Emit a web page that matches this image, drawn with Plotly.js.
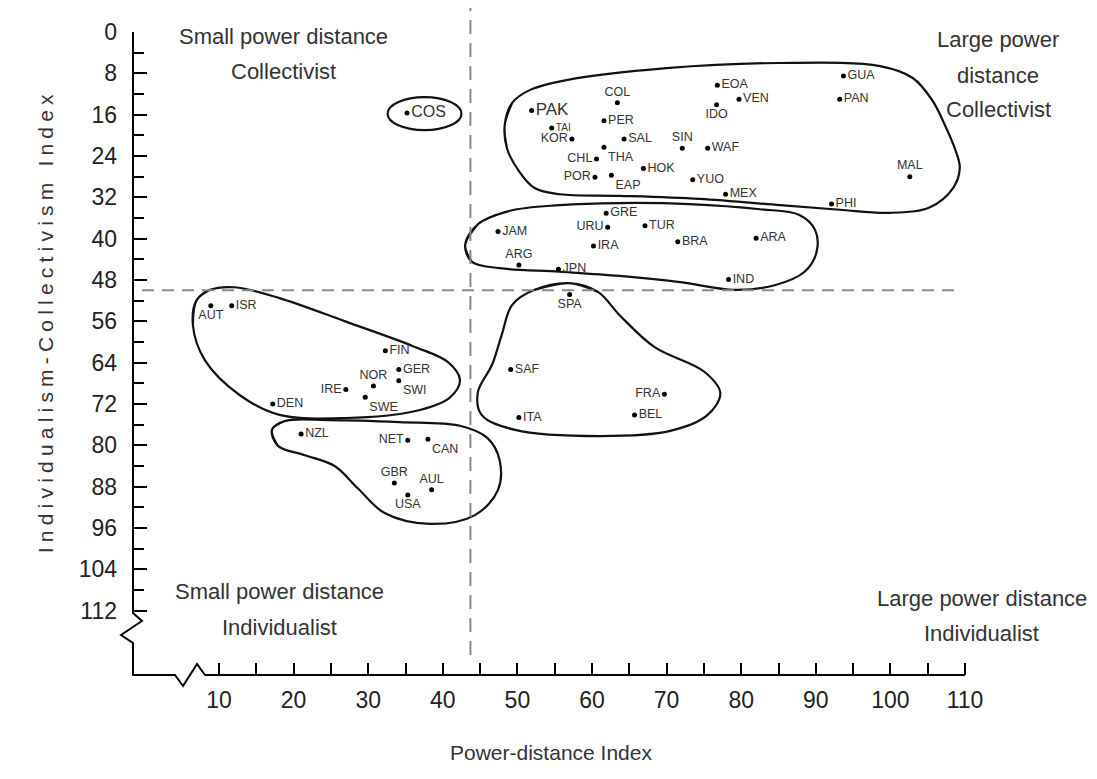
<!DOCTYPE html>
<html>
<head>
<meta charset="utf-8">
<script src="https://cdn.plot.ly/plotly-3.0.1.min.js"></script>
<style>
html,body{margin:0;padding:0;background:#fff;}
#chart{width:1097px;height:779px;}
.annotation[data-index="0"] text{letter-spacing:5.2px;}
</style>
</head>
<body>
<div id="chart"></div>
<script>
// ---------------- data ----------------
const countries = ["PAK","TAI","KOR","COL","PER","SAL","THA","CHL","POR","EAP","HOK","SIN","WAF","YUO","MEX","EOA","VEN","IDO","GUA","PAN","MAL","PHI","COS","JAM","ARG","URU","GRE","TUR","IRA","BRA","ARA","JPN","IND","SPA","AUT","ISR","FIN","GER","SWI","NOR","IRE","SWE","DEN","NZL","NET","CAN","GBR","AUL","USA","SAF","FRA","ITA","BEL"];
const powerDistance = [51.9,54.6,57.3,63.4,61.6,64.3,61.6,60.6,60.4,62.6,66.9,72.1,75.5,73.5,77.9,76.8,79.7,76.7,93.7,93.2,102.6,92.1,35.2,47.4,50.2,62.1,61.9,67.1,60.2,71.5,82.0,55.5,78.3,57.0,8.9,11.7,32.3,34.1,34.1,30.7,27.0,29.6,17.2,21.0,35.3,38.0,33.5,38.5,35.3,49.1,69.7,50.2,65.7];
const individualism = [15.2,18.6,20.7,13.7,17.2,20.7,22.3,24.6,28.1,27.7,26.4,22.5,22.5,28.6,31.4,10.3,13.0,14.1,8.5,13.0,28.0,33.3,15.7,38.6,45.1,37.8,35.1,37.5,41.4,40.6,39.9,45.9,47.9,50.8,53.0,53.0,61.7,65.3,67.5,68.5,69.2,70.7,72.0,77.8,79.0,78.8,87.3,88.6,89.6,65.3,70.1,74.6,74.1];

const xTickVals = [10,20,30,40,50,60,70,80,90,100,110];
const xTickText = ["10","20","30","40","50","60","70","80","90","100","110"];
const yTickVals = [0,8,16,24,32,40,48,56,64,72,80,88,96,104,112];
const yTickText = ["0","8","16","24","32","40","48","56","64","72","80","88","96","104","112"];

const pdThreshold = 43.7;   // vertical dashed divider
const idvThreshold = 50;    // horizontal dashed divider

// cluster outlines (power distance, individualism)
const outlineBigX = [48.3,49.3,51.7,56.6,70.0,85.2,98.6,103.0,105.6,107.3,108.7,109.3,108.4,105.3,99.9,93.2,85.2,74.4,63.7,55.7,52.3,50.1,48.6];
const outlineBigY = [18.0,13.7,11.2,9.3,7.0,6.0,6.6,8.9,13.2,18.0,22.8,26.3,30.2,33.9,35.0,34.4,33.5,32.3,31.7,31.4,30.2,26.7,22.5];
const outlineMidX = [43.0,44.7,49.0,55.7,63.7,73.1,82.5,87.8,89.9,90.1,88.5,84.5,79.1,71.8,63.7,55.7,47.6,43.9];
const outlineMidY = [41.2,37.2,34.6,33.5,33.1,33.3,34.3,35.4,38.3,42.6,46.4,49.0,49.9,48.4,47.2,46.4,45.7,44.5];
const outlineSouthX = [57.0,52.3,49.3,47.9,46.6,44.7,45.2,49.7,61.1,70.5,75.5,77.2,75.1,68.4,63.7,60.8];
const outlineSouthY = [48.6,49.9,52.8,58.6,64.4,69.7,74.1,77.0,78.2,77.2,74.1,69.9,65.8,61.0,54.8,50.3];
const outlineEuroX = [7.0,8.8,12.1,18.1,27.1,36.0,40.7,42.3,40.9,36.2,27.1,18.1,12.8,8.1,6.5];
const outlineEuroY = [51.9,49.9,49.4,51.5,56.1,60.8,63.9,67.4,70.8,73.4,74.7,74.1,70.3,63.5,56.7];
const outlineAngloX = [17.1,18.8,24.8,34.2,42.3,46.0,47.6,47.4,44.3,38.3,32.2,28.6,25.5,21.5,17.9];
const outlineAngloY = [77.0,75.3,75.1,75.5,76.2,78.6,82.8,88.6,93.5,95.2,93.1,88.3,84.0,81.9,80.1];
const outlineCosX = [32.6,42.5];
const outlineCosY = [12.6,19.0];

const quadrantTL = ["Small power distance","Collectivist"];
const quadrantTR = ["Large power","distance","Collectivist"];
const quadrantBL = ["Small power distance","Individualist"];
const quadrantBR = ["Large power distance","Individualist"];
const xTitle = "Power-distance Index";
const yTitle = "Individualism-Collectivism Index";

// ---------------- styling ----------------
const FONT = "'Liberation Sans',Arial,Helvetica,sans-serif";
const labelPlacement = {KOR:"middle left",COL:"top center",THA:"bottom right",CHL:"middle left",POR:"middle left",EAP:"bottom right",SIN:"top center",IDO:"bottom center",MAL:"top center",ARG:"top center",URU:"middle left",SPA:"bottom center",AUT:"bottom center",NOR:"top center",IRE:"middle left",SWE:"bottom right",NET:"middle left",CAN:"bottom right",GBR:"top center",AUL:"top center",USA:"bottom center",FRA:"middle left",SWI:"bottom right"};
const labelSize = {PAK:17,COS:16,TAI:10};

const X0=-1.53, X1=111.34, YB=124.44, YT=0;
const L=133, T=32, W=842, H=643;
const xp = v => (v-X0)/(X1-X0);
const yp = v => (YB-v)/(YB-YT);
const pxX = p => (p-L)/W;
const pxY = p => (T+H-p)/H;

function closed(xs, ys){
  const n = xs.length;
  return {x:[xs[n-1]].concat(xs,[xs[0],xs[1]]), y:[ys[n-1]].concat(ys,[ys[0],ys[1]])};
}
const outlines = [[outlineBigX,outlineBigY],[outlineMidX,outlineMidY],[outlineSouthX,outlineSouthY],[outlineEuroX,outlineEuroY],[outlineAngloX,outlineAngloY]];
const traces = outlines.map(o => {
  const c = closed(o[0], o[1]);
  return {x:c.x, y:c.y, type:"scatter", mode:"lines", line:{shape:"spline", smoothing:1, color:"#111", width:2.2}, hoverinfo:"skip", showlegend:false, cliponaxis:false};
});
traces.push({
  x: powerDistance, y: individualism, text: countries, type:"scatter", mode:"markers+text",
  textposition: countries.map(c => labelPlacement[c] || "middle right"),
  textfont:{family:FONT, size: countries.map(c => labelSize[c] || 12.5), color:"#333"},
  marker:{size:5, color:"#000"}, showlegend:false, cliponaxis:false, hoverinfo:"text"
});

// axis line with break marks (pixel geometry of the frame)
const axisPts = [[133,32],[133,613],[142,621],[121,635],[133,643],[133,675],[175,675],[183,686],[197,664],[205,675]];
let axisPath = axisPts.map((p,i)=>(i?"L":"M")+pxX(p[0]).toFixed(5)+","+pxY(p[1]).toFixed(5)).join(" ");
axisPath += " L"+xp(110).toFixed(5)+","+pxY(675).toFixed(5);

const shapes = [
  {type:"path", xref:"paper", yref:"paper", path:axisPath, line:{color:"#000", width:2}},
  {type:"line", xref:"paper", yref:"paper", x0:xp(pdThreshold), x1:xp(pdThreshold), y0:pxY(655), y1:pxY(8), line:{color:"#888", width:2, dash:"14px,9px"}},
  {type:"line", xref:"paper", yref:"paper", x0:pxX(142), x1:pxX(960), y0:yp(idvThreshold), y1:yp(idvThreshold), line:{color:"#888", width:2, dash:"12px,8px"}},
  {type:"circle", xref:"x", yref:"y", x0:outlineCosX[0], x1:outlineCosX[1], y0:outlineCosY[0], y1:outlineCosY[1], line:{color:"#111", width:2.2}}
];

const qFont = {family:FONT, size:22, color:"#333"};
const annotations = [
  {text:yTitle, xref:"paper", yref:"paper", x:pxX(45), y:pxY(321), textangle:-90, showarrow:false, xanchor:"center", yanchor:"middle", font:{family:FONT, size:21, color:"#333"}},
  {text:xTitle, xref:"paper", yref:"paper", x:pxX(551), y:pxY(752), showarrow:false, xanchor:"center", yanchor:"middle", font:{family:FONT, size:21, color:"#333"}}
];
function addLines(lines, cx, ys){
  lines.forEach((t,i) => annotations.push({text:t, xref:"paper", yref:"paper", x:pxX(cx), y:pxY(ys[i]), showarrow:false, xanchor:"center", yanchor:"middle", font:qFont}));
}
addLines(quadrantTL, 283, [36,72]);
addLines(quadrantTR, 998, [40,75,110]);
addLines(quadrantBL, 279, [591,627]);
addLines(quadrantBR, 982, [598,633]);

const yMinor = []; for (let v=4; v<112; v+=8) yMinor.push(v);
const xMinor = []; for (let v=15; v<110; v+=10) xMinor.push(v);

const layout = {
  width:1097, height:779,
  margin:{l:L, r:1097-L-W, t:T, b:779-T-H, pad:0},
  paper_bgcolor:"#fff", plot_bgcolor:"#fff",
  showlegend:false,
  xaxis:{range:[X0,X1], showgrid:false, zeroline:false, showline:false, automargin:false,
    tickmode:"array", tickvals:xTickVals, ticktext:xTickText, ticks:"inside", ticklen:12, tickwidth:2, tickcolor:"#000",
    tickfont:{family:FONT, size:23, color:"#222"}, ticklabelstandoff:9,
    minor:{tickmode:"array", tickvals:xMinor, ticks:"inside", ticklen:12, tickwidth:2, tickcolor:"#000", showgrid:false}},
  yaxis:{range:[YB,YT], showgrid:false, zeroline:false, showline:false, automargin:false,
    tickmode:"array", tickvals:yTickVals, ticktext:yTickText, ticks:"inside", ticklen:14, tickwidth:2, tickcolor:"#000",
    tickfont:{family:FONT, size:23, color:"#222"}, ticklabelstandoff:15,
    minor:{tickmode:"array", tickvals:yMinor, ticks:"inside", ticklen:11, tickwidth:2, tickcolor:"#000", showgrid:false}},
  shapes:shapes,
  annotations:annotations
};

Plotly.newPlot("chart", traces, layout, {staticPlot:true, displayModeBar:false});
</script>
</body>
</html>
